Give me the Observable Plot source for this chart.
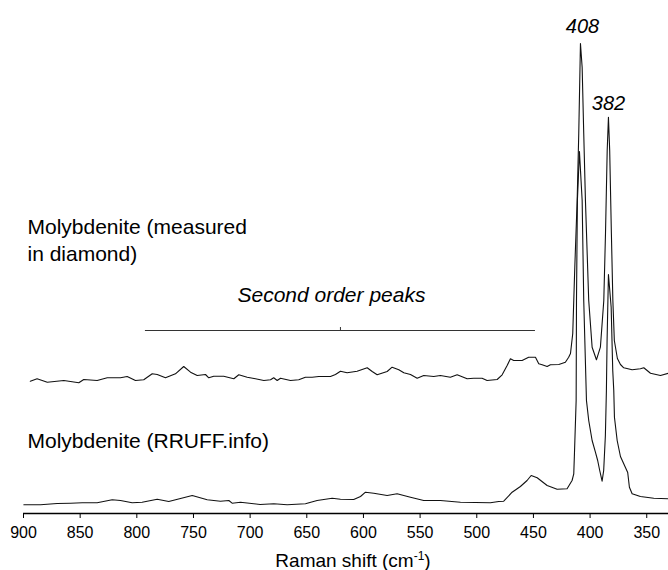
<!DOCTYPE html>
<html><head><meta charset="utf-8">
<script src="https://cdn.jsdelivr.net/npm/d3@7"></script>
<script src="https://cdn.jsdelivr.net/npm/@observablehq/plot@0.6"></script>
<style>
body{margin:0;background:#fff;}
#chart{width:668px;height:570px;}
</style></head><body><div id="chart"></div>
<script>
// Molybdenite measured in diamond (Raman shift cm-1, relative intensity)
const measuredShift = [894,888,879,864.4,851.2,846.8,835,826.1,814.4,808.5,801.2,793.9,786.4,782,774.7,765.9,758.6,752.6,746.7,739.4,736.5,732.1,723.3,714.4,710,702.6,695.3,687.9,682,679.2,676.1,673.2,664.4,657.1,651.2,645.3,639.4,629.1,624.7,620.3,614.4,605.6,596.7,592.3,587.9,579.1,574.7,568.8,564.4,558.5,552.6,546.8,538,532.1,523.3,517.3,508.5,502.7,495.3,490.9,482,477.6,473.2,470.3,467.4,460,454.2,448.2,445.3,442.3,437.9,435,427.6,421.8,418.9,417.3,415.3,413.5,411.4,410,408.5,407,405.6,404.1,401.2,398.2,394.4,390.9,387.9,386.4,384.9,383.8,382.7,381.2,379.9,378.6,375.9,373.2,370.3,362.9,355.6,352.6,346.7,337.9,330.8];
const measuredIntensity = [132.3,134.7,131.3,133,130.7,134,133,135.7,135.7,137,133,133.7,139.7,139,135.7,139.7,147,141.3,138,139,135.7,137.3,137.3,134.7,138.7,136.3,134.7,133,133.7,135.7,133,135.3,133,133.7,136.3,136.3,137,137,139,142.3,140.7,142.3,145.7,142,138.7,142,146.3,143.7,140.7,139,135.3,138,137,138,136.3,138.7,134.7,135.3,135.3,133,134,138.7,148,154.7,153,153,156.3,156.3,149.7,148.7,147,148.7,149,151.3,156.3,160,180,246,313,380,470,446.3,380,313,213,166.3,153.7,166.3,213,280,363,396.3,363,280,213,173,155,149,145.7,143.7,144.7,145.7,140.3,138,140.3];
// Molybdenite RRUFF reference
const rruffShift = [899.7,885,870.3,858.5,848.2,835,821.7,814.4,804.1,795.3,782,771.8,751.1,737.9,726.2,718.8,715.9,708.5,691.2,679.1,667.3,651.2,640.9,627.6,620.3,608.6,602.6,598.2,590.9,579.1,570.3,558.5,546.8,532.1,514.4,488,480.6,476.2,468.8,461.5,455.6,452,446.7,437.9,429.1,420.3,415.9,414.4,413.8,412.3,412,411.2,409.4,407,405.6,403.2,401.2,398.2,395.3,393.3,391.5,389.4,388,386.5,385.6,385,383.8,381.4,380,379.1,378.5,376.1,373.2,368.8,366.8,365.3,362.9,355.6,343.8,330.8];
const rruffIntensity = [8.7,8.7,10,10.3,10.7,10.7,13.7,13,10.7,11.3,14.3,12,18,13.7,12.3,13,10.3,11.3,9,9.7,8.7,9.7,13,15.3,14.3,14,17,21.3,20.3,18,19.7,16.3,13,13,11.3,10.7,12,12.3,21.3,27,33,38,35.7,28,24.3,24.7,33,39.7,59.7,113,213,313,362,313,213,113,93,73,61.3,53,43,32.3,43,78,123,173,239,206.3,143,123,96.3,73,57,46,41,26.3,19.7,17,15.3,14.7];

const xTicks = [900,850,800,750,700,650,600,550,500,450,400,350];
const peakLabels = ["408","382"];
const peakShifts = [408.5,383.8];
const seriesNames = ["Molybdenite (measured\nin diamond)","Molybdenite (RRUFF.info)"];
const seriesLabelShift = [896.5,896.5];
const seriesLabelIntensity = [253,66];
const bracketLabel = ["Second order peaks"];
const bracketRange = [792.4,448.2];
const bracketLevel = [183];
const axisTitle = ["Raman shift (cm-1)"];

const measured = measuredShift.map((x,i)=>({x, y: measuredIntensity[i]}));
const rruff = rruffShift.map((x,i)=>({x, y: rruffIntensity[i]}));
const peakData = peakLabels.map((t,i)=>{
  const p = measured.reduce((a,b)=>Math.abs(b.x-peakShifts[i])<Math.abs(a.x-peakShifts[i])?b:a);
  return {text:t, x:p.x, y:p.y};
});
const bMid = (bracketRange[0]+bracketRange[1])/2;
const bracket = [{x1:bracketRange[0], x2:bracketRange[1], y:bracketLevel[0]}];

const font = "'Liberation Sans', Arial, Helvetica, sans-serif";
const chart = Plot.plot({
  width:668, height:570,
  marginLeft:23, marginRight:0, marginTop:0, marginBottom:57,
  x:{domain:[900,330.8], axis:null},
  y:{domain:[0,513], axis:null},
  style:{fontFamily:font, fontSize:"16px", color:"#000", background:"#fff", overflow:"visible"},
  marks:[
    Plot.ruleY([0], {stroke:"#000", strokeWidth:1.3}),
    Plot.axisX(xTicks, {anchor:"bottom", tickSize:5, tickPadding:8, fontSize:16, label:null, stroke:"#000", fill:"#000"}),
    Plot.line(measured, {x:"x", y:"y", stroke:"#111", strokeWidth:1.1}),
    Plot.line(rruff, {x:"x", y:"y", stroke:"#111", strokeWidth:1.1}),
    Plot.text(peakData.slice(0,1), {x:"x", y:"y", text:"text", dy:-11, dx:2, lineAnchor:"bottom", fontSize:20, fontStyle:"italic", fill:"#000"}),
    Plot.text(peakData.slice(1,2), {x:"x", y:"y", text:"text", dy:-7, dx:0, lineAnchor:"bottom", fontSize:20, fontStyle:"italic", fill:"#000"}),
    Plot.ruleY(bracket, {x1:"x1", x2:"x2", y:"y", stroke:"#333", strokeWidth:1}),
    Plot.ruleX([bMid], {x:d=>d, y1:()=>bracketLevel[0], y2:()=>bracketLevel[0]+3, stroke:"#333", strokeWidth:1}),
    Plot.text(bracketLabel, {x:()=>bMid, y:()=>bracketLevel[0], dy:-29, dx:-9, lineAnchor:"bottom", fontSize:21, fontStyle:"italic", fill:"#000"}),
    Plot.text(seriesNames, {x:(d,i)=>seriesLabelShift[i], y:(d,i)=>seriesLabelIntensity[i], textAnchor:"start", lineAnchor:"bottom", lineHeight:1.25, fontSize:21, fill:"#000"}),
    Plot.text(axisTitle, {frameAnchor:"bottom", dy:53, dx:7, lineAnchor:"bottom", fontSize:19, fill:"#000"})
  ]
});
document.getElementById("chart").appendChild(chart);
// superscript in axis title
chart.querySelectorAll("text").forEach(t=>{
  if (t.textContent === axisTitle[0]) {
    t.textContent = "";
    const ns = "http://www.w3.org/2000/svg";
    const a = document.createElementNS(ns,"tspan"); a.textContent = "Raman shift (cm";
    const b = document.createElementNS(ns,"tspan"); b.textContent = "-1"; b.setAttribute("dy","-7"); b.setAttribute("font-size","12");
    const c = document.createElementNS(ns,"tspan"); c.textContent = ")"; c.setAttribute("dy","7");
    t.append(a,b,c);
  }
});
</script></body></html>
